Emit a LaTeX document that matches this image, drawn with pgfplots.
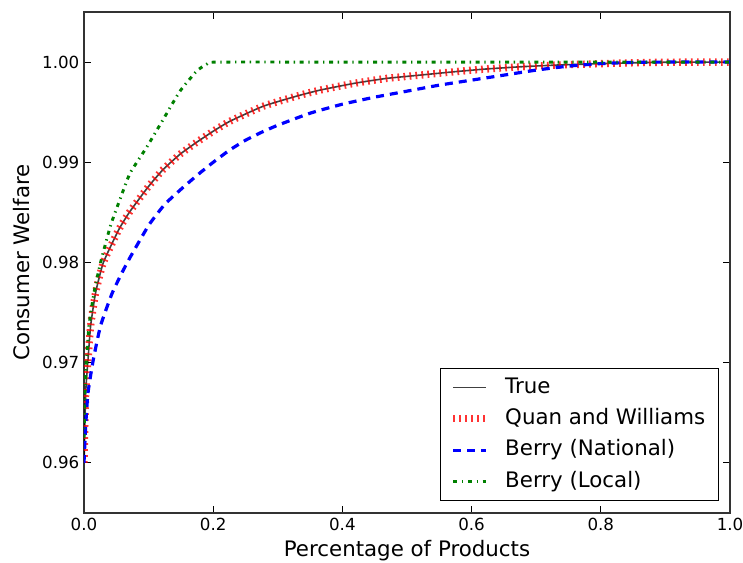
\documentclass[border=0pt]{standalone}
\usepackage{pgfplots}
\pgfplotsset{compat=1.18}
\usepackage{fontspec}
\setmainfont{DejaVu Sans}
\definecolor{mplgreen}{rgb}{0,0.5,0}
\pgfplotstableread{
x y
0 0.9600
0.0026 0.9670
0.0062 0.9703
0.0103 0.9737
0.018 0.9770
0.030 0.9800
0.054 0.9833
0.0712 0.9851
0.1 0.9876
0.1228 0.9893
0.1486 0.9908
0.1744 0.9920
0.2 0.9931
0.226 0.9941
0.2776 0.9956
0.329 0.9966
0.365 0.9972
0.42 0.9979
0.468 0.99837
0.52 0.9987
0.572 0.99903
0.62 0.9993
0.675 0.99953
0.73 0.9997
0.778 0.9998
0.83 0.9999
0.881 0.99997
0.94 1.0
1.0 1.0
}\truedata
\pgfplotstableread{
x y
0 0.9600
0.0026 0.9637
0.0062 0.9670
0.0144 0.9703
0.0257 0.9737
0.044 0.9770
0.067 0.9800
0.1 0.9837
0.125 0.9858
0.15 0.9873
0.175 0.9887
0.2 0.9900
0.225 0.9912
0.25 0.9922
0.275 0.9930
0.3 0.9937
0.35 0.9949
0.4 0.9958
0.45 0.9965
0.5 0.9971
0.55 0.9977
0.6 0.9982
0.65 0.9987
0.7 0.9992
0.75 0.9996
0.8 0.99985
0.85 0.99997
0.9 1.0
1.0 1.0
}\natdata
\pgfplotstableread{
x y
0 0.9625
0.0015 0.9670
0.004 0.9703
0.0077 0.97367
0.0155 0.9770
0.0257 0.9800
0.041 0.98367
0.0557 0.9863
0.0712 0.9889
0.097 0.9915
0.1228 0.9943
0.1486 0.9971
0.1744 0.9991
0.19 0.9998
0.205 1.0
0.4 1.0
0.6 1.0
0.8 1.0
1.0 1.0
}\locdata
\begin{document}
\begin{tikzpicture}
\useasboundingbox (-63pt,-37.5pt) rectangle (494.25pt,384.75pt);
\begin{axis}[
  scale only axis, width=484.5pt, height=375.75pt,
  xmin=0, xmax=1, ymin=0.955, ymax=1.005,
  xtick={0,0.2,0.4,0.6,0.8,1.0},
  ytick={0.96,0.97,0.98,0.99,1.00},
  xticklabel style={/pgf/number format/.cd, fixed, fixed zerofill, precision=1},
  yticklabel style={/pgf/number format/.cd, fixed, fixed zerofill, precision=2},
  /pgf/number format/assume math mode=true,
  tick label style={font=\fontsize{12.5}{15}\selectfont},
  tick align=inside, tick pos=both,
  major tick length=5pt,
  tick style={line width=0.8pt, black},
  axis line style={line width=1pt, black!80},
  xlabel={Percentage of Products},
  ylabel={Consumer Welfare},
  label style={font=\fontsize{16}{19}\selectfont},
  xlabel style={at={(axis description cs:0.5,0)}, anchor=center, yshift=-28.5pt},
  ylabel style={at={(axis description cs:-0.096,0.5)}, anchor=center},
  legend style={at={(rel axis cs:0.983,0.024)}, anchor=south east, draw=black, line width=0.8pt,
    font=\fontsize{16}{19}\selectfont, row sep=2pt,
    nodes={text height=12pt, text depth=3.5pt, inner sep=3pt},
    inner xsep=7pt, inner ysep=3.5pt},
  legend cell align=left,
  legend image code/.code={\draw[#1] (0pt,0pt) -- (24.5pt,0pt); \path[draw=none,fill=none] (0pt,0pt) -- (36pt,0pt);},
  every axis plot/.append style={smooth, tension=0.3},
]
\addplot[black, opacity=0.75, line width=1.2pt] table {\truedata};
\addlegendentry{True}
\addplot[red, opacity=0.8, line width=5.5pt, dash pattern=on 1.3pt off 3.2pt] table {\truedata};
\addlegendentry{Quan and Williams}
\addplot[blue, line width=2.4pt, dash pattern=on 6pt off 4.5pt] table {\natdata};
\addlegendentry{Berry (National)}
\addplot[mplgreen, line width=2.2pt, dash pattern=on 3pt off 3.5pt on 1pt off 3.5pt] table {\locdata};
\addlegendentry{Berry (Local)}
\end{axis}
\end{tikzpicture}
\end{document}
